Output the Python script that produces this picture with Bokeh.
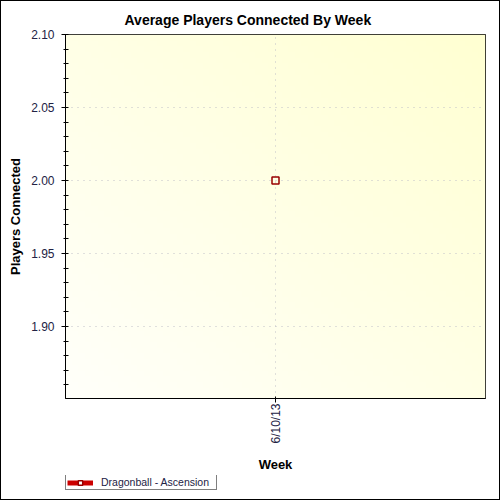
import numpy as np
from bokeh.plotting import figure
from bokeh.layouts import column
from bokeh.models import Range1d, FixedTicker, Legend, LegendItem, ColumnDataSource, CustomJSTickFormatter
from bokeh.embed import file_html
from bokeh.resources import INLINE

weeks = ["6/10/13"]
players = [2.00]
series_name = "Dragonball - Ascension"
y_ticks = [1.90, 1.95, 2.00, 2.05, 2.10]
y_lo, y_hi = 1.8507, 2.10
x_lo, x_hi = -1.0, 1.0

xs = list(range(len(weeks)))
src = ColumnDataSource(dict(x=xs, y=players))

p = figure(width=498, height=474, output_backend="svg", toolbar_location=None,
           x_range=Range1d(x_lo, x_hi), y_range=Range1d(y_lo, y_hi),
           min_border_left=64, min_border_right=14, min_border_top=33, min_border_bottom=77)

# background gradient
n = 64
u = np.linspace(0, 1, n)[None, :]
v = np.linspace(0, 1, n)[:, None]
t = (u + v) / 2.0
b = 250 - 40 * t
img = np.empty((n, n), dtype=np.uint32)
view = img.view(dtype=np.uint8).reshape((n, n, 4))
view[:, :, 0] = 255
view[:, :, 1] = 255
view[:, :, 2] = b.astype(np.uint8)
view[:, :, 3] = 255
p.image_rgba(image=[img], x=x_lo, y=y_lo, dw=x_hi - x_lo, dh=y_hi - y_lo, level="image")

p.title.text = "Average Players Connected By Week"
p.title.text_font = "Liberation Sans"
p.title.text_font_size = "14px"
p.title.text_font_style = "bold"
p.title.align = "left"
p.title.offset = 59
p.title.text_color = "black"
p.title.standoff = 13

p.outline_line_color = "black"
p.outline_line_width = 1

for ax in (p.xaxis[0], p.yaxis[0]):
    ax.axis_line_color = "black"
    ax.major_tick_line_color = "black"
    ax.minor_tick_line_color = "black"
    ax.major_label_text_font = "Liberation Sans"
    ax.major_label_text_font_size = "12px"
    ax.major_label_text_color = "#222244"
    ax.axis_label_text_font = "Liberation Sans"
    ax.axis_label_text_font_size = "13px"
    ax.axis_label_text_font_style = "bold"
    ax.axis_label_text_color = "black"

p.yaxis.ticker = FixedTicker(ticks=y_ticks, minor_ticks=[round(1.86 + 0.01 * i, 2) for i in range(25)])
p.yaxis.formatter = CustomJSTickFormatter(code="return tick.toFixed(2);")
p.yaxis.axis_label = "Players Connected"
p.yaxis.major_tick_out = 4
p.yaxis.major_tick_in = 0
p.yaxis.minor_tick_out = 2
p.yaxis.minor_tick_in = 3
p.yaxis.major_label_standoff = 7
p.yaxis.axis_label_standoff = 5

p.xaxis.ticker = FixedTicker(ticks=xs, minor_ticks=[])
p.xaxis.major_label_overrides = {i: w for i, w in zip(xs, weeks)}
p.xaxis.major_label_orientation = np.pi / 2
p.xaxis.axis_label = "Week"
p.xaxis.major_tick_out = 4
p.xaxis.major_tick_in = 2
p.xaxis.major_label_standoff = 1
p.xaxis.axis_label_standoff = 10

for gr in (p.xgrid[0], p.ygrid[0]):
    gr.grid_line_color = "#c0c0c8"
    gr.grid_line_dash = "1 5"
    gr.grid_line_width = 1
p.ygrid.ticker = FixedTicker(ticks=y_ticks)

line_style = dict(line_color="#cc0000", line_width=5)
marker_style = dict(marker="square", size=7, line_color="#990000", line_width=1.5)
ln = p.line("x", "y", source=src, **line_style)
sc = p.scatter("x", "y", source=src, fill_color="white", fill_alpha=0.0, **marker_style)

# legend strip beneath the chart (its renderers' data lies outside this strip's ranges)
p2 = figure(width=498, height=24, output_backend="svg", toolbar_location=None,
            x_axis_location=None, y_axis_location=None,
            x_range=Range1d(10, 11), y_range=Range1d(10, 11),
            min_border_left=0, min_border_right=0, min_border_top=0, min_border_bottom=0)
p2.grid.visible = False
p2.outline_line_color = None
ln2 = p2.line("x", "y", source=src, **line_style)
sc2 = p2.scatter("x", "y", source=src, fill_color="white", **marker_style)
legend = Legend(items=[LegendItem(label=series_name, renderers=[ln2, sc2])],
                location=(0, 9), orientation="horizontal",
                border_line_color="black", border_line_width=1,
                background_fill_color="white", background_fill_alpha=1,
                padding=1, spacing=0, margin=0, glyph_width=26, glyph_height=11,
                label_height=10, label_width=114, label_standoff=8,
                label_text_font="Liberation Sans", label_text_font_size="10.5px",
                label_text_color="#222244")
p2.add_layout(legend, "center")

layout = column(p, p2, spacing=0)
layout.styles = {"border": "1px solid black"}

open("out.html", "w").write(file_html(layout, INLINE))
